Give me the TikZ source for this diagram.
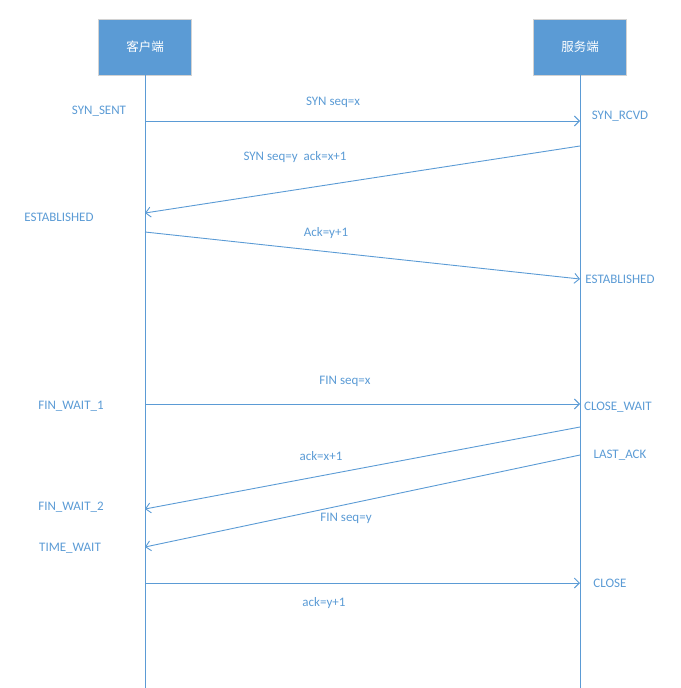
\documentclass[tikz,border=0pt]{standalone}
\usepackage{fontspec}
\setmainfont{Carlito}
\newfontfamily\cjk{Noto Sans CJK SC}
\usetikzlibrary{arrows.meta,positioning}
\definecolor{msblue}{HTML}{5B9BD5}

\begin{document}
\begin{tikzpicture}[x=1pt,y=-1pt,
    party/.style={draw=gray!35, line width=0.8pt, fill=msblue, text=white, minimum width=93pt, minimum height=56pt, inner sep=0pt, font=\cjk\fontsize{12.5}{14}\selectfont},
    state/.style={text=msblue, font=\fontsize{13}{15}\selectfont, inner sep=0pt},
    msg/.style={text=msblue, font=\fontsize{13}{15}\selectfont, inner sep=0pt},
    life/.style={draw=msblue, line width=0.9pt},
    sig/.style={draw=msblue, line width=0.9pt, -{Straight Barb[length=5pt,width=10pt]}}]
   \useasboundingbox (0,0) rectangle (680,688);

   % Define nodes
   \node[party] (client) at (145,47) {客户端};
   \node[party] (server) at (580,47) {服务端};
   \coordinate (clientend) at (145,688);
   \coordinate (serverend) at (580,688);

   \coordinate (c1) at (145,121); \coordinate (s1) at (580,121);
   \coordinate (s2) at (580,146); \coordinate (c2) at (145,213);
   \coordinate (c3) at (145,232); \coordinate (s3) at (580,279);
   \coordinate (c4) at (145,404); \coordinate (s4) at (580,404);
   \coordinate (s5) at (580,427); \coordinate (c5) at (145,509);
   \coordinate (s6) at (580,455); \coordinate (c6) at (145,547);
   \coordinate (c7) at (145,583); \coordinate (s7) at (580,583);

   % States
   \node[state] (synsent) at (99,111) {SYN\_SENT};
   \node[state] (synrcvd) at (620,116) {SYN\_RCVD};
   \node[state] (estc) at (59,217) {ESTABLISHED};
   \node[state] (ests) at (620,279) {ESTABLISHED};
   \node[state] (finwait1) at (71,406) {FIN\_WAIT\_1};
   \node[state] (closewait) at (618,407) {CLOSE\_WAIT};
   \node[state] (lastack) at (620,455) {LAST\_ACK};
   \node[state] (finwait2) at (71,507) {FIN\_WAIT\_2};
   \node[state] (timewait) at (70,548) {TIME\_WAIT};
   \node[state] (close) at (610,583) {CLOSE};

   % Messages
   \node[msg] (m1) at (333,102) {SYN seq=x};
   \node[msg] (m2) at (295,157) {SYN seq=y\ \ ack=x+1};
   \node[msg] (m3) at (326,233) {Ack=y+1};
   \node[msg] (m4) at (345,381) {FIN seq=x};
   \node[msg] (m5) at (321,456) {ack=x+1};
   \node[msg] (m6) at (346,518) {FIN seq=y};
   \node[msg] (m7) at (324,603) {ack=y+1};

   % Draw edges
   \draw[life] (client) -- (clientend);
   \draw[life] (server) -- (serverend);
   \draw[sig] (c1) -- (s1);
   \draw[sig] (s2) -- (c2);
   \draw[sig] (c3) -- (s3);
   \draw[sig] (c4) -- (s4);
   \draw[sig] (s5) -- (c5);
   \draw[sig] (s6) -- (c6);
   \draw[sig] (c7) -- (s7);
\end{tikzpicture}
\end{document}
